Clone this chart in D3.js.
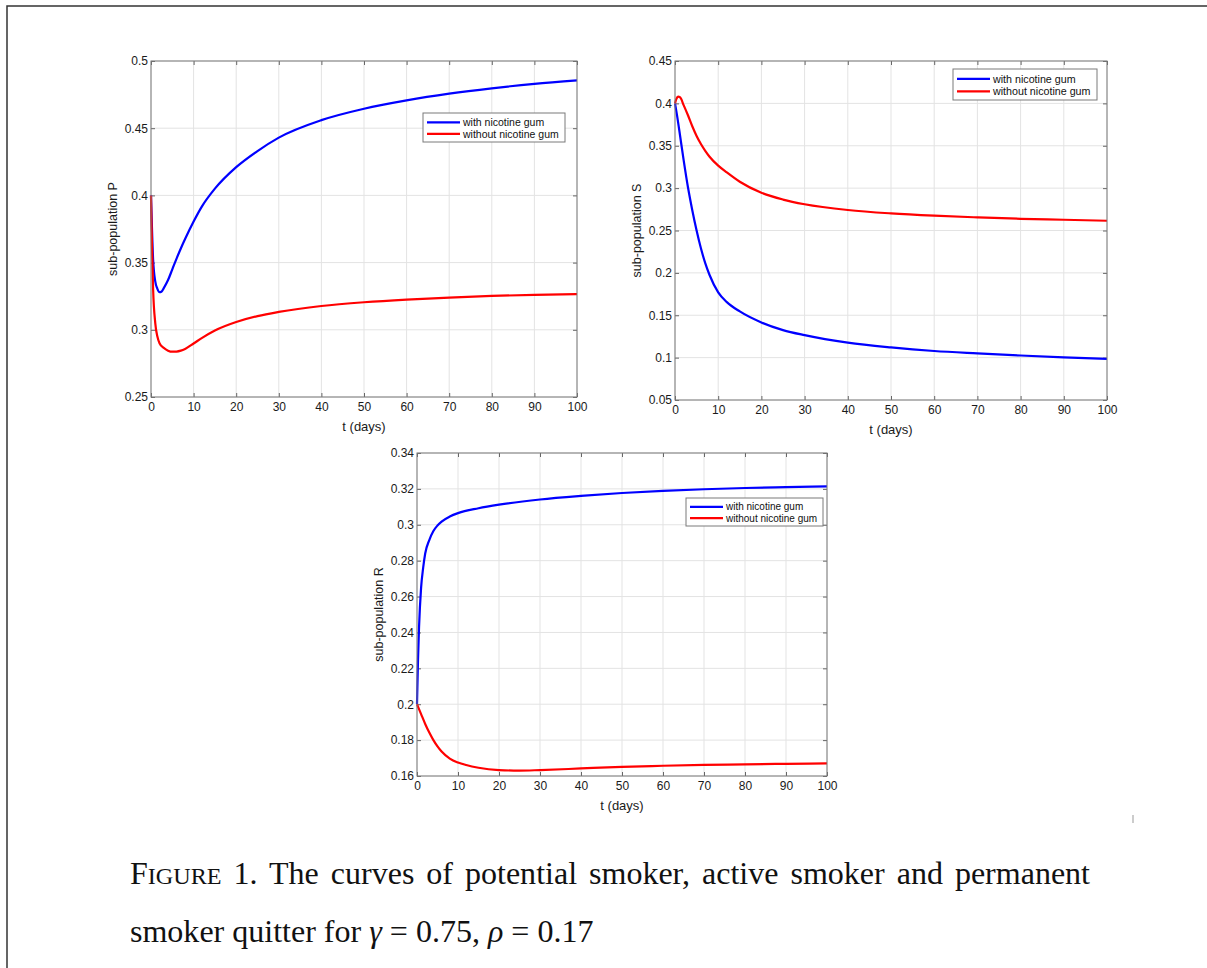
<!DOCTYPE html>
<html>
<head>
<meta charset="utf-8">
<script src="https://d3js.org/d3.v7.min.js"></script>
<style>
  body { margin: 0; background: #fff; }
  svg { display: block; }
</style>
</head>
<body>
<svg id="fig" width="1207" height="968"></svg>
<script>
// ---- values ----
let xTicks = [0, 10, 20, 30, 40, 50, 60, 70, 80, 90, 100];
let legendLabels = ["with nicotine gum", "without nicotine gum"];
let seriesColors = ["#0000ff", "#ff0000"];

// sub-population P
let tPWith = [0, 0.5, 1, 1.5, 2, 2.5, 3, 4, 5, 6, 7, 8, 10, 12, 15, 20, 25, 30, 40, 50, 60, 70, 80, 90, 100];
let pWith = [0.4, 0.352, 0.336, 0.3305, 0.328, 0.3285, 0.331, 0.337, 0.345, 0.353, 0.3605, 0.3675, 0.3805, 0.392, 0.405, 0.421, 0.433, 0.443, 0.456, 0.4645, 0.4707, 0.4757, 0.4797, 0.483, 0.4856];
let tPWithout = [0, 0.25, 0.5, 1, 1.5, 2, 3, 4, 5, 6, 7, 8, 10, 12, 15, 20, 25, 30, 40, 50, 60, 70, 80, 90, 100];
let pWithout = [0.4, 0.36, 0.33, 0.305, 0.295, 0.29, 0.2865, 0.2845, 0.2837, 0.2838, 0.2845, 0.2858, 0.2898, 0.294, 0.2995, 0.3058, 0.3102, 0.3133, 0.3177, 0.3205, 0.3225, 0.324, 0.3252, 0.326, 0.3266];
let pTicks = [0.25, 0.3, 0.35, 0.4, 0.45, 0.5];

// sub-population S
let tSWith = [0, 0.5, 1, 2, 3, 4, 5, 6, 7, 8, 10, 12, 15, 20, 25, 30, 40, 50, 60, 70, 80, 90, 100];
let sWith = [0.4, 0.385, 0.368, 0.333, 0.301, 0.274, 0.25, 0.229, 0.2115, 0.1975, 0.177, 0.1655, 0.1545, 0.1415, 0.1325, 0.1265, 0.1176, 0.112, 0.1078, 0.105, 0.1025, 0.1003, 0.0985];
let tSWithout = [0, 0.3, 0.7, 1.2, 2, 3, 4, 5, 6, 7, 8, 10, 12, 15, 20, 25, 30, 40, 50, 60, 70, 80, 90, 100];
let sWithout = [0.4, 0.405, 0.408, 0.407, 0.398, 0.386, 0.373, 0.3615, 0.352, 0.344, 0.337, 0.3265, 0.3185, 0.3075, 0.2945, 0.2865, 0.281, 0.2742, 0.2702, 0.2675, 0.2655, 0.2638, 0.2627, 0.2615];
let sTicks = [0.05, 0.1, 0.15, 0.2, 0.25, 0.3, 0.35, 0.4, 0.45];

// sub-population R
let tRWith = [0, 0.25, 0.5, 1, 1.5, 2, 3, 4, 5, 6, 8, 10, 15, 20, 30, 40, 50, 60, 70, 80, 90, 100];
let rWith = [0.2, 0.225, 0.243, 0.265, 0.276, 0.284, 0.2915, 0.2965, 0.2996, 0.3018, 0.3046, 0.3065, 0.3092, 0.3112, 0.3141, 0.3161, 0.3177, 0.3189, 0.3198, 0.3205, 0.321, 0.3214];
let tRWithout = [0, 1, 2, 3, 4, 5, 6, 8, 10, 12, 15, 20, 25, 30, 40, 50, 60, 70, 80, 90, 100];
let rWithout = [0.2, 0.1945, 0.189, 0.1842, 0.18, 0.1765, 0.1736, 0.1697, 0.1675, 0.1661, 0.1646, 0.1633, 0.163, 0.1633, 0.1642, 0.1651, 0.1657, 0.1662, 0.1665, 0.1668, 0.167];
let rTicks = [0.16, 0.18, 0.2, 0.22, 0.24, 0.26, 0.28, 0.3, 0.32, 0.34];

const SANS = "'Liberation Sans', Arial, Helvetica, sans-serif";
const SERIF = "'Liberation Serif', 'Times New Roman', Times, serif";

let svg = d3.select("#fig");

// page frame (left and top edge of the scanned page)
svg.append("path")
  .attr("d", "M7,968 V6 H1207")
  .attr("fill", "none")
  .attr("stroke", "#333")
  .attr("stroke-width", 1.5);

let zip = (ts, vs) => ts.map((t, i) => [t, vs[i]]);

let panels = [
  { left: 151, top: 61, w: 426, h: 336, yTicks: pTicks, yLabel: "sub-population P",
    series: [zip(tPWith, pWith), zip(tPWithout, pWithout)],
    legend: { x: 272, y: 52, w: 142, h: 29, font: 10.5 } },
  { left: 675, top: 61, w: 432, h: 339, yTicks: sTicks, yLabel: "sub-population S",
    series: [zip(tSWith, sWith), zip(tSWithout, sWithout)],
    legend: { x: 278, y: 8, w: 144, h: 31, font: 10.7 } },
  { left: 417, top: 453, w: 410, h: 323, yTicks: rTicks, yLabel: "sub-population R",
    series: [zip(tRWith, rWith), zip(tRWithout, rWithout)],
    legend: { x: 269, y: 45, w: 137, h: 28, font: 10 } }
];

let fmt = d => String(+d.toFixed(2));

function draw_panel(p) {
  let g = svg.append("g").attr("transform", "translate(" + p.left + "," + p.top + ")");
  let x = d3.scaleLinear().domain([0, 100]).range([0, p.w]);
  let y = d3.scaleLinear().domain(d3.extent(p.yTicks)).range([p.h, 0]);

  // grid
  g.append("g").selectAll("line.gx").data(xTicks).join("line")
    .attr("x1", d => x(d)).attr("x2", d => x(d))
    .attr("y1", 0).attr("y2", p.h)
    .attr("stroke", "#e3e3e3").attr("stroke-width", 1);
  g.append("g").selectAll("line.gy").data(p.yTicks).join("line")
    .attr("x1", 0).attr("x2", p.w)
    .attr("y1", d => y(d)).attr("y2", d => y(d))
    .attr("stroke", "#e3e3e3").attr("stroke-width", 1);

  // axes, ticks pointing inward like matlab
  let axes = [
    [d3.axisBottom(x).tickValues(xTicks).tickFormat(fmt).tickSize(-4).tickPadding(5), 0, p.h],
    [d3.axisTop(x).tickValues(xTicks).tickFormat("").tickSize(-4), 0, 0],
    [d3.axisLeft(y).tickValues(p.yTicks).tickFormat(fmt).tickSize(-4).tickPadding(3), 0, 0],
    [d3.axisRight(y).tickValues(p.yTicks).tickFormat("").tickSize(-4), p.w, 0]
  ];
  axes.forEach(a => {
    let ag = g.append("g")
      .attr("transform", "translate(" + a[1] + "," + a[2] + ")")
      .call(a[0]);
    ag.select(".domain").remove();
    ag.selectAll("line").attr("stroke", "#666");
    ag.selectAll("text")
      .attr("font-family", SANS).attr("font-size", 12).attr("fill", "#1a1a1a");
  });

  // curves
  let line = d3.line().x(d => x(d[0])).y(d => y(d[1])).curve(d3.curveMonotoneX);
  g.append("g").selectAll("path").data(p.series).join("path")
    .attr("d", line)
    .attr("fill", "none")
    .attr("stroke", (d, i) => seriesColors[i])
    .attr("stroke-width", 2.2);

  // box
  g.append("rect")
    .attr("width", p.w).attr("height", p.h)
    .attr("fill", "none").attr("stroke", "#7a7a7a").attr("stroke-width", 1);

  // axis labels
  g.append("text")
    .attr("x", p.w / 2).attr("y", p.h + 34)
    .attr("text-anchor", "middle")
    .attr("font-family", SANS).attr("font-size", 13).attr("fill", "#1a1a1a")
    .text("t (days)");
  g.append("text")
    .attr("transform", "translate(-34," + (p.h / 2) + ") rotate(-90)")
    .attr("text-anchor", "middle")
    .attr("font-family", SANS).attr("font-size", 12.5).attr("fill", "#1a1a1a")
    .text(p.yLabel);

  // legend
  let lg = g.append("g").attr("transform", "translate(" + p.legend.x + "," + p.legend.y + ")");
  lg.append("rect")
    .attr("width", p.legend.w).attr("height", p.legend.h)
    .attr("fill", "#fff").attr("stroke", "#7a7a7a").attr("stroke-width", 1);
  let rows = lg.selectAll("g.row").data(legendLabels).join("g")
    .attr("transform", (d, i) => "translate(0," + (p.legend.h * (i === 0 ? 0.32 : 0.72)) + ")");
  rows.append("line")
    .attr("x1", 4).attr("x2", 37)
    .attr("stroke", (d, i) => seriesColors[i]).attr("stroke-width", 2.2);
  rows.append("text")
    .attr("x", 40).attr("dy", "0.35em")
    .attr("font-family", SANS).attr("font-size", p.legend.font).attr("fill", "#111")
    .text(d => d);
}

panels.forEach(draw_panel);

// small stray mark on the page
svg.append("line")
  .attr("x1", 1133).attr("x2", 1133).attr("y1", 815).attr("y2", 823)
  .attr("stroke", "#999").attr("stroke-width", 1);

// ---- caption (the scan is a little stretched sideways) ----
const capScale = 1.05;
let capG = svg.append("g").attr("transform", "translate(130,0) scale(" + capScale + ",1)");

let cap1 = capG.append("text")
  .attr("x", 0).attr("y", 884)
  .attr("font-family", SERIF).attr("font-size", 30.5).attr("fill", "#111");
cap1.append("tspan").text("F");
cap1.append("tspan").attr("font-size", 23).text("IGURE");
cap1.append("tspan").text(" 1.  The curves of potential smoker, active smoker and permanent");

// justify the first line out to the right margin
let natural = cap1.node().getComputedTextLength();
let nSpaces = cap1.text().split(" ").length - 1;
cap1.attr("word-spacing", Math.max(0, ((1094 - 130) / capScale - natural) / nSpaces));

let cap2 = capG.append("text")
  .attr("x", 0).attr("y", 942)
  .attr("font-family", SERIF).attr("font-size", 30.5).attr("fill", "#111");
cap2.append("tspan").text("smoker quitter for ");
cap2.append("tspan").attr("font-style", "italic").text("γ");
cap2.append("tspan").text(" = 0.75,  ");
cap2.append("tspan").attr("font-style", "italic").text("ρ");
cap2.append("tspan").text(" = 0.17");
</script>
</body>
</html>
